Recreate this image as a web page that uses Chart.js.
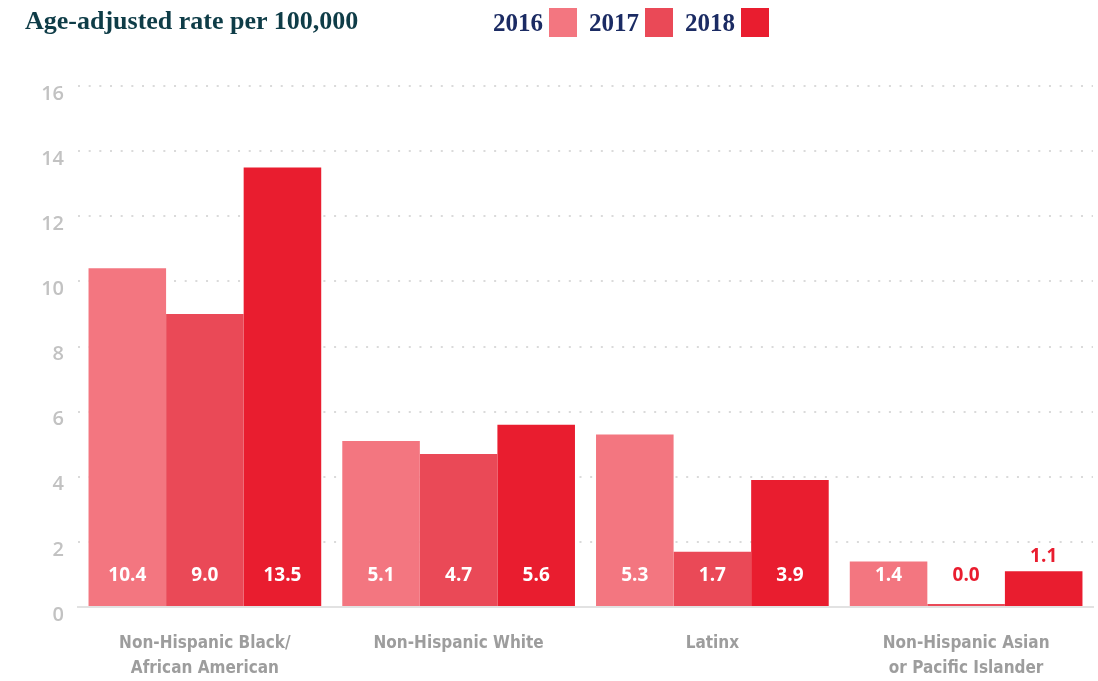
<!DOCTYPE html>
<html>
<head>
<meta charset="utf-8">
<title>Age-adjusted rate per 100,000</title>
<script src="https://cdn.jsdelivr.net/npm/chart.js@4.4.1/dist/chart.umd.min.js"></script>
<style>
  html, body { margin: 0; padding: 0; background: #fff; }
  #wrap { position: relative; width: 1098px; height: 681px; overflow: hidden; }
  #chart { position: absolute; left: 0; top: 0; }
  #title {
    position: absolute; left: 25px; top: 8px;
    font: bold 26px/26px "Liberation Serif", serif;
    color: #0e3c47; white-space: nowrap;
  }
  #legend {
    position: absolute; left: 493px; top: 8px; height: 29px;
    display: flex; align-items: center;
    font: bold 25px/29px "Liberation Serif", serif; color: #1b2b63;
  }
  #legend .item { display: flex; align-items: center; margin-right: 12px; }
  #legend .box { width: 28px; height: 29px; margin-left: 6px; }
</style>
</head>
<body>
<div id="wrap">
  <canvas id="chart" width="1098" height="681"></canvas>
  <div id="title">Age-adjusted rate per 100,000</div>
  <div id="legend"></div>
</div>
<script>
// Data
const categories = [
  ['Non-Hispanic Black/', 'African American'],
  ['Non-Hispanic White'],
  ['Latinx'],
  ['Non-Hispanic Asian', 'or Pacific Islander']
];
const years = ['2016', '2017', '2018'];
const rates2016 = [10.4, 5.1, 5.3, 1.4];
const rates2017 = [9.0, 4.7, 1.7, 0.0];
const rates2018 = [13.5, 5.6, 3.9, 1.1];
const yTicks = [0, 2, 4, 6, 8, 10, 12, 14, 16];

const barColors = ['#f37680', '#ea4957', '#e91d2f'];
const series = [rates2016, rates2017, rates2018];

// Legend (text first, then the colour box)
const legend = document.getElementById('legend');
years.forEach((year, i) => {
  const item = document.createElement('div');
  item.className = 'item';
  item.innerHTML = `<span>${year}</span><span class="box" style="background:${barColors[i]}"></span>`;
  legend.appendChild(item);
});

// Value labels: white inside the bar, red above it when the bar is too short
const valueLabels = {
  id: 'valueLabels',
  afterDatasetsDraw(chart) {
    const ctx = chart.ctx;
    ctx.save();
    ctx.font = 'bold 19px "Open Sans", sans-serif';
    ctx.textAlign = 'center';
    ctx.textBaseline = 'middle';
    chart.data.datasets.forEach((ds, i) => {
      chart.getDatasetMeta(i).data.forEach((bar, j) => {
        const v = ds.data[j];
        const h = bar.base - bar.y;
        let y = bar.base - 30;
        if (h >= 44) {
          ctx.fillStyle = '#ffffff';
        } else {
          ctx.fillStyle = '#e91d2f';
          y = Math.min(y, bar.y - 15);
        }
        ctx.fillText(v.toFixed(1), bar.x, y);
      });
    });
    ctx.restore();
  }
};

new Chart(document.getElementById('chart'), {
  type: 'bar',
  data: {
    labels: categories,
    datasets: years.map((year, i) => ({
      label: year,
      data: series[i],
      backgroundColor: barColors[i],
      borderWidth: 0,
      minBarLength: 3,
      categoryPercentage: 0.917,
      barPercentage: 1.0
    }))
  },
  options: {
    responsive: false,
    animation: false,
    layout: { padding: { top: 86, right: 5, bottom: 2, left: 0 } },
    plugins: {
      legend: { display: false },
      tooltip: { enabled: false }
    },
    scales: {
      x: {
        afterFit: scale => { scale.height = 72; },
        grid: { display: false },
        border: { display: true, color: '#e2e2e2', width: 2 },
        ticks: {
          padding: 16,
          maxRotation: 0,
          autoSkip: false,
          color: '#9d9d9d',
          font: { family: '"Liberation Sans Narrow", "DejaVu Sans Condensed", sans-serif', size: 17, weight: 'bold', lineHeight: '25px' }
        }
      },
      y: {
        min: 0,
        max: 16,
        afterBuildTicks: scale => { scale.ticks = yTicks.map(v => ({ value: v })); },
        afterFit: scale => { scale.width = 78; },
        grid: {
          drawTicks: false,
          lineWidth: 2,
          color: ctx => ctx.tick && ctx.tick.value === 0 ? 'rgba(0,0,0,0)' : '#dadada'
        },
        border: { display: false, dash: [2, 8.67] },
        ticks: {
          padding: 14,
          labelOffset: 8,
          color: '#c2c2c2',
          font: { family: '"Open Sans", sans-serif', size: 20, weight: '600' }
        }
      }
    }
  },
  plugins: [valueLabels]
});
</script>
</body>
</html>
